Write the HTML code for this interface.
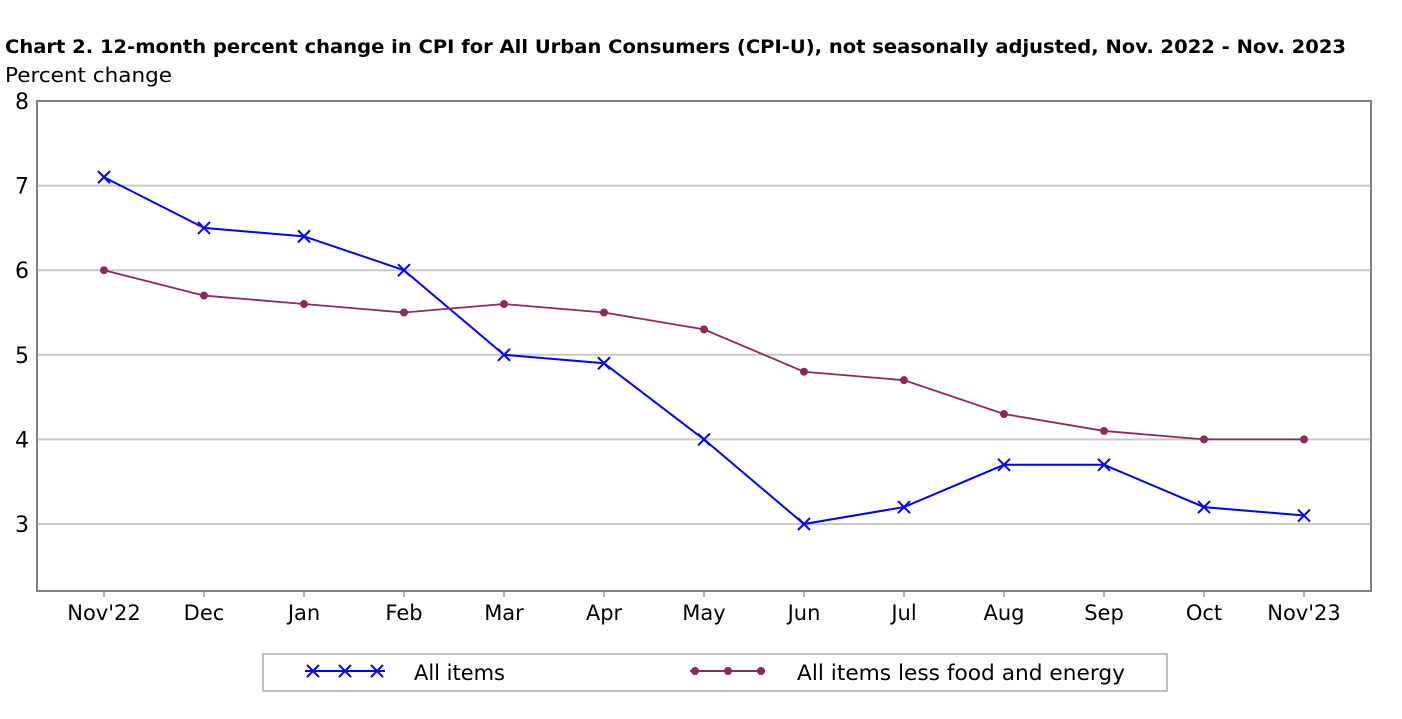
<!DOCTYPE html>
<html><head><meta charset="utf-8"><style>
body{margin:0;background:#fff;font-family:"Liberation Sans","DejaVu Sans",sans-serif;}
svg text{font-family:"DejaVu Sans","Liberation Sans",sans-serif;}
</style></head><body>
<svg id="c" width="1402" height="714">
<text x="5" y="53" font-size="19" font-weight="bold" fill="#000" textLength="1341" lengthAdjust="spacingAndGlyphs">Chart 2. 12-month percent change in CPI for All Urban Consumers (CPI-U), not seasonally adjusted, Nov. 2022 - Nov. 2023</text>
<text x="5" y="82" font-size="20" fill="#000" textLength="167" lengthAdjust="spacingAndGlyphs">Percent change</text>
<g id="grid"></g><g id="series"></g>
<rect x="37" y="101" width="1334" height="490" fill="none" stroke="#808080" stroke-width="2"/>
<rect x="263" y="654" width="904" height="37" fill="#fff" stroke="#aaa" stroke-width="1.5"/>
<g>
<line x1="305" y1="671" x2="385" y2="671" stroke="#0000ff" stroke-width="2"/>
<path d="M307 665l12 12M319 665l-12 12M339 665l12 12M351 665l-12 12M371 665l12 12M383 665l-12 12" stroke="#0000ff" stroke-width="2"/>
<text x="414" y="680" font-size="21" textLength="91" lengthAdjust="spacingAndGlyphs">All items</text></g>
<g>
<line x1="690" y1="671" x2="765" y2="671" stroke="#8b2b5c" stroke-width="2"/>
<circle cx="695" cy="671" r="4" fill="#8b2b5c"/><circle cx="728" cy="671" r="4" fill="#8b2b5c"/><circle cx="761" cy="671" r="4" fill="#8b2b5c"/>
<text x="797" y="680" font-size="21" textLength="328" lengthAdjust="spacingAndGlyphs">All items less food and energy</text></g>
</svg>
<script>
const categories=["Nov'22","Dec","Jan","Feb","Mar","Apr","May","Jun","Jul","Aug","Sep","Oct","Nov'23"];
const allItems=[7.1,6.5,6.4,6.0,5.0,4.9,4.0,3.0,3.2,3.7,3.7,3.2,3.1];
const core=[6.0,5.7,5.6,5.5,5.6,5.5,5.3,4.8,4.7,4.3,4.1,4.0,4.0];
const yTicks=[3,4,5,6,7,8];
const NS="http://www.w3.org/2000/svg";
const x=i=>104+i*100;
const y=v=>101+(8-v)*84.6;
function mk(t,a,p){const e=document.createElementNS(NS,t);for(const k in a)e.setAttribute(k,a[k]);p.appendChild(e);return e;}
const grid=document.getElementById('grid'),ser=document.getElementById('series');
yTicks.forEach(v=>{
 if(v<8){const l=mk('line',{x1:37,x2:1371,y1:y(v),y2:y(v),stroke:'#c8c8c8','stroke-width':2},grid);
 
 }
 const t=mk('text',{x:29,y:y(v)+8,'font-size':22,'text-anchor':'end'},grid);t.textContent=v;
 
 
});
categories.forEach((c,i)=>{
 mk('line',{x1:x(i),x2:x(i),y1:591,y2:597,stroke:'#999','stroke-width':1.5},grid);
 const t=mk('text',{x:x(i),y:620,'font-size':21,'text-anchor':'middle'},grid);t.textContent=c;
 
 
});
const p1=mk('polyline',{points:allItems.map((v,i)=>x(i)+','+y(v)).join(' '),fill:'none',stroke:'#0000ff','stroke-width':2},ser);


const p2=mk('polyline',{points:core.map((v,i)=>x(i)+','+y(v)).join(' '),fill:'none',stroke:'#8b2b5c','stroke-width':1.8},ser);


allItems.forEach((v,i)=>{
 const cx=x(i),cy=y(v);
 const m=mk('path',{d:`M${cx-6} ${cy-6}l12 12M${cx+6} ${cy-6}l-12 12`,stroke:'#0000ff','stroke-width':2},ser);
 
 
});
core.forEach((v,i)=>{
 const m=mk('circle',{cx:x(i),cy:y(v),r:4,fill:'#8b2b5c'},ser);
 
 
});
</script>
</body></html>
